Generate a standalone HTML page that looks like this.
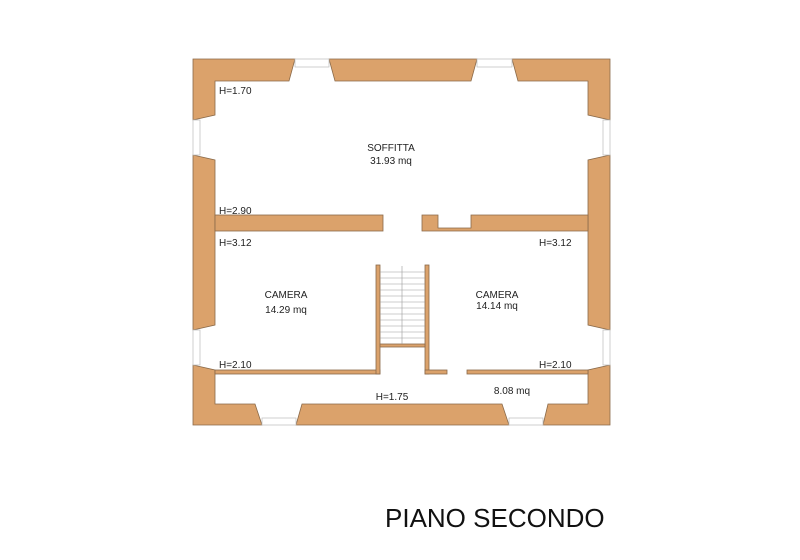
<!DOCTYPE html>
<html><head><style>body{margin:0;background:#fff}svg{display:block}text{font-family:"Liberation Sans",sans-serif;fill:#222}</style></head><body>
<svg width="800" height="560" viewBox="0 0 800 560">
<g fill="#dba26b" stroke="#8a6a4a" stroke-width="0.8">
<polygon points="193,59 295,59 289,81 215,81 215,115 193,120"/>
<polygon points="329,59 477,59 471,81 335,81"/>
<polygon points="512,59 610,59 610,120 588,115 588,81 518,81"/>
<polygon points="193,155 215,160 215,325 193,330"/>
<polygon points="193,365 215,370 215,404 255,404 262,425 193,425"/>
<polygon points="610,155 588,160 588,325 610,330"/>
<polygon points="610,365 588,370 588,404 548,404 543,425 610,425"/>
<polygon points="296,425 302,404 502,404 509,425"/>
<rect x="215" y="215" width="168" height="16"/>
<polygon points="422,215 438,215 438,228 471,228 471,215 588,215 588,231 422,231"/>
<rect x="215" y="370" width="165" height="4"/>
<rect x="376" y="265" width="4" height="109"/>
<rect x="425" y="265" width="4" height="109"/>
<rect x="425" y="370" width="22" height="4"/>
<rect x="467" y="370" width="121" height="4"/>
<rect x="380" y="344" width="45" height="3"/>
</g>
<g stroke="#bbb" stroke-width="0.7" fill="#fff">
<rect x="295" y="59" width="34" height="8"/><rect x="477" y="59" width="35" height="8"/>
<rect x="193" y="120" width="7" height="35"/><rect x="193" y="330" width="7" height="35"/>
<rect x="603" y="120" width="7" height="35"/><rect x="603" y="330" width="7" height="35"/>
<rect x="262" y="418" width="34" height="7"/><rect x="509" y="418" width="34" height="7"/>
</g>
<g stroke="#999" stroke-width="0.6">
<line x1="402" y1="266" x2="402" y2="344"/>
<line x1="380" y1="272" x2="425" y2="272"/><line x1="380" y1="278" x2="425" y2="278"/><line x1="380" y1="284" x2="425" y2="284"/><line x1="380" y1="290" x2="425" y2="290"/><line x1="380" y1="296" x2="425" y2="296"/><line x1="380" y1="302" x2="425" y2="302"/><line x1="380" y1="308" x2="425" y2="308"/><line x1="380" y1="314" x2="425" y2="314"/><line x1="380" y1="320" x2="425" y2="320"/><line x1="380" y1="326" x2="425" y2="326"/><line x1="380" y1="332" x2="425" y2="332"/><line x1="380" y1="338" x2="425" y2="338"/>
</g>
<g font-size="10">
<text x="219" y="94">H=1.70</text>
<text x="391" y="151" text-anchor="middle">SOFFITTA</text>
<text x="391" y="164" text-anchor="middle">31.93 mq</text>
<text x="219" y="214">H=2.90</text>
<text x="219" y="246">H=3.12</text>
<text x="539" y="246">H=3.12</text>
<text x="286" y="298" text-anchor="middle">CAMERA</text>
<text x="286" y="313" text-anchor="middle">14.29 mq</text>
<text x="497" y="298" text-anchor="middle">CAMERA</text>
<text x="497" y="309" text-anchor="middle">14.14 mq</text>
<text x="219" y="368">H=2.10</text>
<text x="539" y="368">H=2.10</text>
<text x="392" y="400" text-anchor="middle">H=1.75</text>
<text x="512" y="394" text-anchor="middle">8.08 mq</text>
</g>
<text x="385" y="527" font-size="26" style="fill:#111">PIANO SECONDO</text>
</svg>
</body></html>
